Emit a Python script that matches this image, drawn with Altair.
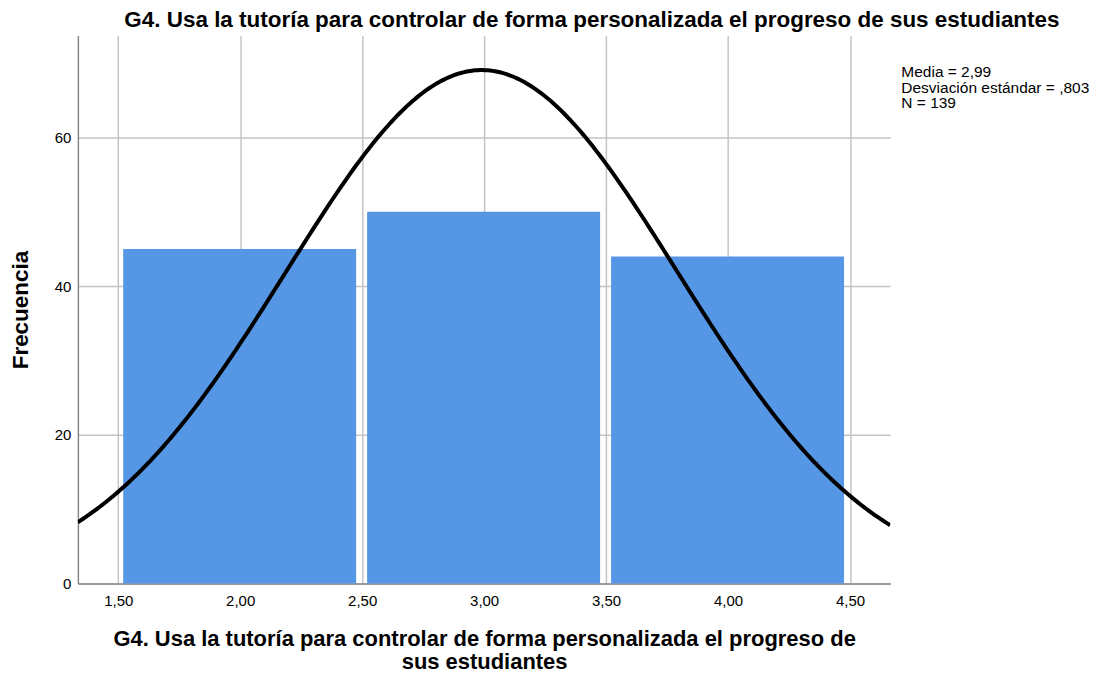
import altair as alt
import pandas as pd

# Histogram data
bin_start = [1.5, 2.5, 3.5]
bin_end = [2.5, 3.5, 4.5]
freq = [45, 50, 44]

# Summary statistics shown in the chart
media = 2.99
desv = 0.803
n = 139
bin_width = 1.0

x_ticks = [1.5, 2.0, 2.5, 3.0, 3.5, 4.0, 4.5]
y_ticks = [0, 20, 40, 60]
x_domain = [1.3346, 4.6654]
y_domain = [0, 73.7]

title_text = "G4. Usa la tutoría para controlar de forma personalizada el progreso de sus estudiantes"
x_title = ["G4. Usa la tutoría para controlar de forma personalizada el progreso de", "sus estudiantes"]
y_title = "Frecuencia"
stats_lines = ["Media = 2,99", "Desviación estándar = ,803", "N = 139"]

FONT = "Liberation Sans"

df = pd.DataFrame({"start": bin_start, "end": bin_end, "freq": freq})

x_scale = alt.Scale(domain=x_domain, nice=False, zero=False)
y_scale = alt.Scale(domain=y_domain, nice=False)

x_axis = alt.Axis(
    values=x_ticks,
    labelExpr="replace(format(datum.value, '.2f'), '.', ',')",
    title=x_title,
    titleFont=FONT, titleFontSize=22, titleFontWeight="bold", titleColor="black",
    titlePadding=20, titleLineHeight=23,
    labelFont=FONT, labelFontSize=15, labelColor="black", labelPadding=10,
    ticks=False, domainColor="#888888", domainWidth=1.5,
    grid=True, gridColor="#c4c4c4", gridWidth=1.5,
)
y_axis = alt.Axis(
    values=y_ticks,
    title=y_title,
    titleFont=FONT, titleFontSize=22.5, titleFontWeight="bold", titleColor="black",
    titlePadding=22,
    labelFont=FONT, labelFontSize=15, labelColor="black", labelPadding=7,
    ticks=False, domainColor="#888888", domainWidth=1.5,
    grid=True, gridColor="#c4c4c4", gridWidth=1.5,
)

bars = alt.Chart(df).mark_bar(color="#5596e5", xOffset=5, x2Offset=-6).encode(
    x=alt.X("start:Q", scale=x_scale, axis=x_axis),
    x2="end:Q",
    y=alt.Y("freq:Q", scale=y_scale, axis=y_axis),
    y2=alt.datum(0),
)

curve = alt.Chart(alt.sequence(x_domain[0], x_domain[1] + 0.005, 0.01, as_="x")).transform_calculate(
    y=f"{n} * {bin_width} * exp(-0.5 * pow((datum.x - {media}) / {desv}, 2)) / ({desv} * sqrt(2 * PI))"
).mark_line(color="black", strokeWidth=4, clip=True).encode(
    x=alt.X("x:Q", scale=x_scale),
    y=alt.Y("y:Q", scale=y_scale),
)

stats = alt.Chart(pd.DataFrame({"a": [0]})).mark_text(
    align="left", baseline="top", font=FONT, fontSize=15.5, color="black", lineHeight=15.5,
).encode(
    x=alt.value(825), y=alt.value(30), text=alt.value(stats_lines)
)

chart = alt.layer(bars, curve, stats).properties(
    width=814, height=549,
    title=alt.Title(title_text, font=FONT, fontSize=22.5, fontWeight="bold", color="black",
                    anchor="middle", dx=108, offset=4),
    autosize=alt.AutoSizeParams(type="none"),
    padding={"left": 70, "top": 27, "right": 200, "bottom": 95},
).configure_view(stroke=None)

chart.save("out.html", embed_options={"renderer": "svg", "actions": False})
